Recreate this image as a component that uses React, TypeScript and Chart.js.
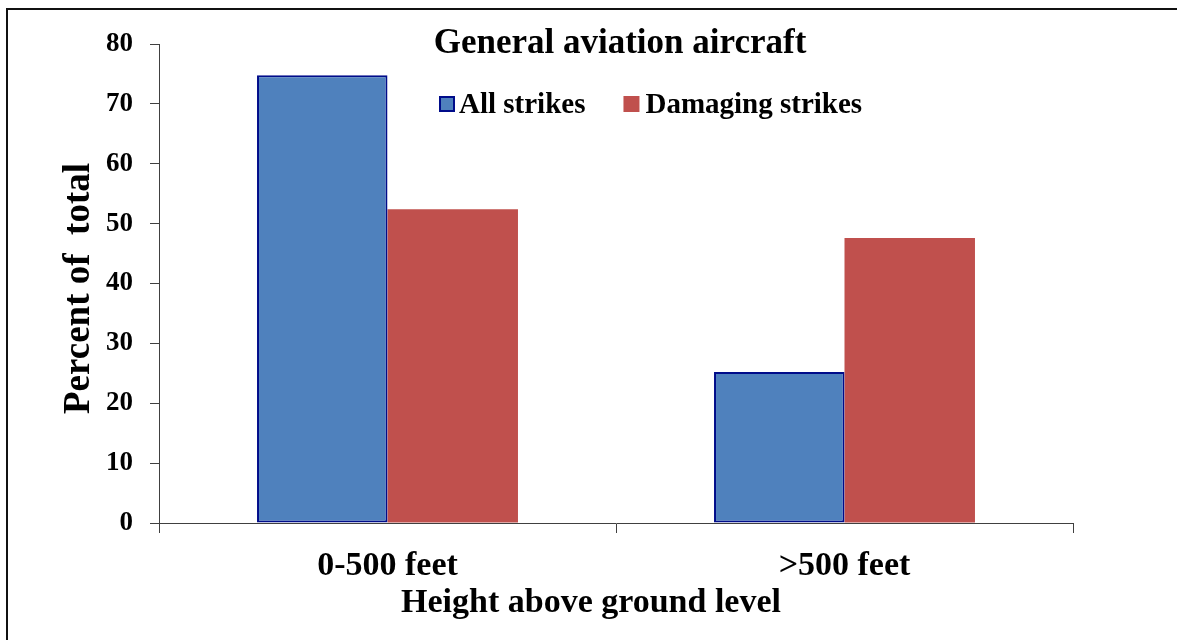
import React, { useEffect, useRef } from "react";
import { Chart, registerables } from "chart.js";

Chart.register(...registerables);

const categories = ["0-500 feet", ">500 feet"];
const allStrikes = [74.8, 25.2];
const damagingStrikes = [52.4, 47.6];
const yTicks = [0, 10, 20, 30, 40, 50, 60, 70, 80];

const chartTitle = "General aviation aircraft";
const yTitle = "Percent of  total";
const xTitle = "Height above ground level";

const SERIF = '"Liberation Serif", "Times New Roman", serif';

const decorPlugin = {
  id: "decor",
  afterDraw(chart: any) {
    const ctx = chart.ctx as CanvasRenderingContext2D;
    const area = chart.chartArea;
    ctx.save();
    ctx.fillStyle = "#000";

    // Title
    ctx.font = `bold 35px ${SERIF}`;
    ctx.textAlign = "center";
    ctx.textBaseline = "alphabetic";
    ctx.fillText(chartTitle, area.left + area.width / 2 + 4, 53);

    // Legend
    ctx.font = `bold 29px ${SERIF}`;
    ctx.textAlign = "left";
    let x = 439;
    const boxY = 96;
    const box = 16;
    chart.data.datasets.forEach((ds: any, i: number) => {
      ctx.fillStyle = ds.backgroundColor;
      ctx.fillRect(x, boxY, box, box);
      if (ds.borderWidth > 0) {
        ctx.strokeStyle = ds.borderColor;
        ctx.lineWidth = 2;
        ctx.strokeRect(x + 1, boxY + 1, box - 2, box - 2);
      }
      ctx.fillStyle = "#000";
      const tx = x + box + (i === 0 ? 4 : 6);
      ctx.fillText(ds.label, tx, 113);
      x = tx + ctx.measureText(ds.label).width + 38;
    });

    // X title
    ctx.font = `bold 34px ${SERIF}`;
    ctx.textAlign = "center";
    ctx.fillText(xTitle, 591, 612);

    // Y title
    ctx.font = `bold 37px ${SERIF}`;
    ctx.translate(89, (area.top + area.bottom) / 2 + 5);
    ctx.rotate(-Math.PI / 2);
    ctx.textAlign = "center";
    ctx.fillText(yTitle, 0, 0);
    ctx.restore();
  },
};

export default function App() {
  const ref = useRef<HTMLCanvasElement>(null);

  useEffect(() => {
    if (!ref.current) return;
    const chart = new Chart(ref.current, {
      type: "bar",
      data: {
        labels: categories,
        datasets: [
          {
            label: "All strikes",
            data: allStrikes,
            backgroundColor: "#4F81BD",
            borderColor: "#000C8A",
            borderWidth: 2,
            borderSkipped: false,
          },
          {
            label: "Damaging strikes",
            data: damagingStrikes,
            backgroundColor: "#C0504D",
            borderColor: "#C0504D",
            borderWidth: 0,
          },
        ],
      },
      options: {
        responsive: false,
        animation: false,
        devicePixelRatio: 1,
        layout: { padding: { left: 0, right: 104, top: 44, bottom: 0 } },
        datasets: {
          bar: { categoryPercentage: 0.571, barPercentage: 1 },
        },
        plugins: {
          legend: { display: false },
          title: { display: false },
          tooltip: { enabled: false },
        },
        scales: {
          x: {
            offset: true,
            grid: {
              display: true,
              offset: true,
              drawOnChartArea: false,
              drawTicks: true,
              tickLength: 10,
              color: "#404040",
            },
            border: { display: true, color: "#404040", width: 1 },
            ticks: {
              color: "#000",
              padding: 13,
              font: { family: SERIF, size: 34, weight: "bold" },
              maxRotation: 0,
            },
            afterFit: (s: any) => {
              s.height = 117;
            },
          },
          y: {
            min: 0,
            max: 80,
            afterBuildTicks: (s: any) => {
              s.ticks = yTicks.map((v) => ({ value: v }));
            },
            grid: {
              display: true,
              drawOnChartArea: false,
              drawTicks: true,
              tickLength: 9,
              color: "#404040",
            },
            border: { display: true, color: "#404040", width: 1 },
            ticks: {
              color: "#000",
              padding: 17,
              font: { family: SERIF, size: 27, weight: "bold" },
            },
            afterFit: (s: any) => {
              s.width = 159;
            },
          },
        },
      },
      plugins: [decorPlugin],
    } as any);
    return () => chart.destroy();
  }, []);

  return (
    <div
      style={{
        position: "fixed",
        left: 0,
        top: 0,
        width: 1177,
        height: 640,
        overflow: "hidden",
        background: "#fff",
      }}
    >
      <canvas ref={ref} width={1177} height={640} style={{ display: "block" }} />
      <div
        style={{
          position: "absolute",
          left: 6,
          top: 8,
          width: 2000,
          height: 2000,
          borderTop: "2px solid #111",
          borderLeft: "2px solid #111",
          boxSizing: "border-box",
        }}
      />
    </div>
  );
}
